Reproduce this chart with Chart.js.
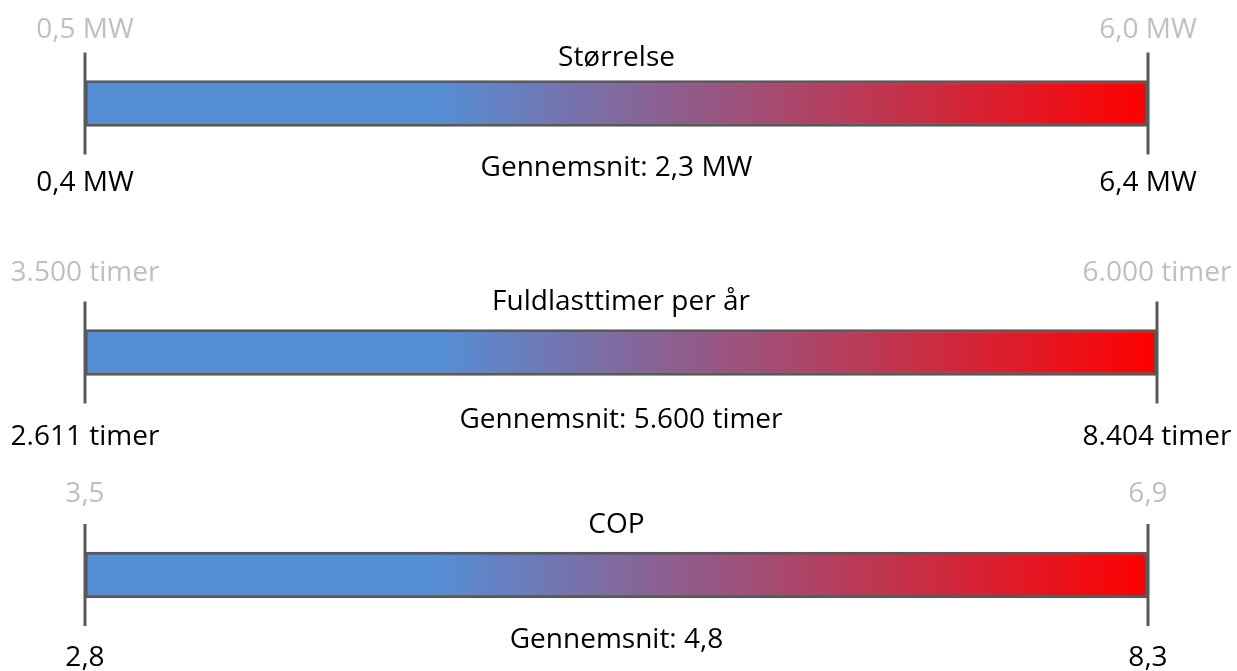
<!DOCTYPE html>
<html lang="da">
<head>
    <meta charset="UTF-8">
    <title>Nøgletal</title>
    <style>
        body {
            margin: 0;
            background: #fff;
            width: 1237px;
            height: 671px;
            overflow: hidden;
        }
        .row {
            position: absolute;
            left: 0;
            width: 1237px;
        }
    </style>
</head>
<body>
    <div class="row" style="top:0"><canvas id="row0" width="1237" height="230"></canvas></div>
    <div class="row" style="top:230px"><canvas id="row1" width="1237" height="230"></canvas></div>
    <div class="row" style="top:460px"><canvas id="row2" width="1237" height="211"></canvas></div>

    <script src="https://cdn.jsdelivr.net/npm/chart.js"></script>
    <script>
        // værdier pr. række
        const rowTitles = ['Størrelse', 'Fuldlasttimer per år', 'COP'];
        const minValues = [0.4, 2611, 2.8];
        const maxValues = [6.4, 8404, 8.3];
        const refLow = [0.5, 3500, 3.5];
        const refHigh = [6.0, 6000, 6.9];
        const averages = [2.3, 5600, 4.8];
        const units = [' MW', ' timer', ''];
        const decimals = [1, 0, 1];

        // placering af hver række (padding i px) og tekstafstande fra bjælkens midte
        const rowLayout = [
            { padTop: 0, padBottom: 23, padRight: 89, gray: -73, title: -45, avg: 65, bottom: 80 },
            { padTop: 15, padBottom: 0, padRight: 80, gray: -79, title: -50, avg: 68, bottom: 85 },
            { padTop: 19, padBottom: 0, padRight: 89, gray: -81, title: -50, avg: 65, bottom: 83 }
        ];

        const FONT = '28px "Open Sans", "Noto Sans", sans-serif';
        const LINE = '#595959';

        // dansk talformat: punktum som tusindtalsseparator, komma som decimal
        function fmt(v, dec) {
            const parts = v.toFixed(dec).split('.');
            const whole = parts[0].replace(/\B(?=(\d{3})+(?!\d))/g, '.');
            return parts.length > 1 ? whole + ',' + parts[1] : whole;
        }

        function barGradient(context) {
            const chart = context.chart;
            const area = chart.chartArea;
            if (!area) return '#558ED5';
            const g = chart.ctx.createLinearGradient(area.left, 0, area.right, 0);
            g.addColorStop(0, '#558ED5');
            g.addColorStop(0.33, '#558ED5');
            g.addColorStop(1, '#FF0000');
            return g;
        }

        function labelPlugin(i) {
            return {
                id: 'rowLabels' + i,
                afterDraw(chart) {
                    const ctx = chart.ctx;
                    const lay = rowLayout[i];
                    const bar = chart.getDatasetMeta(0).data[0];
                    const cy = bar.y;
                    const xs = chart.scales.x;
                    const x0 = xs.getPixelForValue(minValues[i]);
                    const x1 = xs.getPixelForValue(maxValues[i]);
                    const mid = (x0 + x1) / 2;

                    ctx.save();
                    // lodrette streger i hver ende
                    ctx.strokeStyle = LINE;
                    ctx.lineWidth = 3;
                    ctx.beginPath();
                    ctx.moveTo(x0, cy - 51);
                    ctx.lineTo(x0, cy + 51);
                    ctx.moveTo(x1, cy - 51);
                    ctx.lineTo(x1, cy + 51);
                    ctx.stroke();

                    ctx.font = FONT;
                    ctx.textAlign = 'center';
                    ctx.textBaseline = 'middle';

                    ctx.fillStyle = '#BFBFBF';
                    ctx.fillText(fmt(refLow[i], decimals[i]) + units[i], x0, cy + lay.gray);
                    ctx.fillText(fmt(refHigh[i], decimals[i]) + units[i], x1, cy + lay.gray);

                    ctx.fillStyle = '#000';
                    ctx.fillText(rowTitles[i], mid, cy + lay.title);
                    ctx.fillText('Gennemsnit: ' + fmt(averages[i], decimals[i]) + units[i], mid, cy + lay.avg);
                    ctx.fillText(fmt(minValues[i], decimals[i]) + units[i], x0, cy + lay.bottom);
                    ctx.fillText(fmt(maxValues[i], decimals[i]) + units[i], x1, cy + lay.bottom);
                    ctx.restore();
                }
            };
        }

        rowTitles.forEach((title, i) => {
            const lay = rowLayout[i];
            new Chart(document.getElementById('row' + i), {
                type: 'bar',
                data: {
                    labels: [title],
                    datasets: [{
                        data: [[minValues[i], maxValues[i]]],
                        backgroundColor: barGradient,
                        borderColor: LINE,
                        borderWidth: 3,
                        borderSkipped: false,
                        barThickness: 46
                    }]
                },
                options: {
                    indexAxis: 'y',
                    responsive: false,
                    animation: false,
                    layout: {
                        padding: { left: 85, right: lay.padRight, top: lay.padTop, bottom: lay.padBottom }
                    },
                    scales: {
                        x: { type: 'linear', min: minValues[i], max: maxValues[i], display: false },
                        y: { display: false }
                    },
                    plugins: {
                        legend: { display: false },
                        tooltip: { enabled: false }
                    }
                },
                plugins: [labelPlugin(i)]
            });
        });
    </script>
</body>
</html>
